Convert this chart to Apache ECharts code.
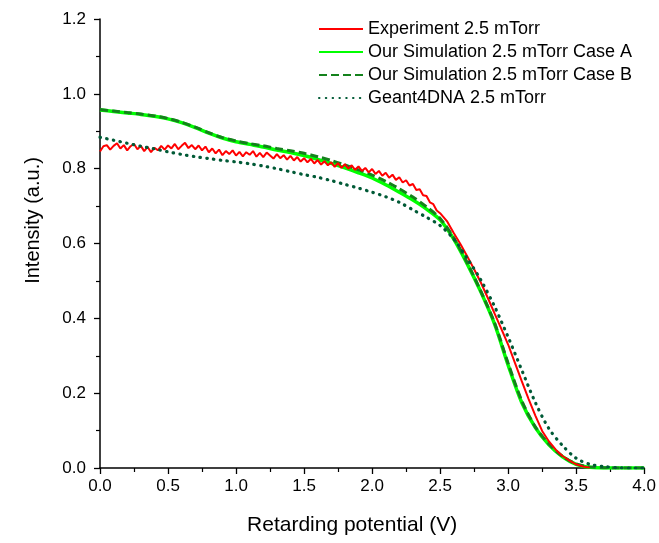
<!DOCTYPE html>
<html>
<head>
<meta charset="utf-8">
<script src="https://cdn.jsdelivr.net/npm/echarts@6/dist/echarts.min.js"></script>
<style>
html,body{margin:0;padding:0;background:#fff;}
#chart{width:659px;height:543px;}
</style>
</head>
<body>
<div id="chart"></div>
<script>
// ---- Data ----
const seriesNames = [
  'Experiment 2.5 mTorr',
  'Our Simulation 2.5 mTorr Case A',
  'Our Simulation 2.5 mTorr Case B',
  'Geant4DNA 2.5 mTorr'
];

const expV = [
  0.000,0.025,0.050,0.075,0.100,0.125,0.150,0.175,0.200,0.225,0.250,0.275,0.300,0.325,0.350,0.375,0.400,0.425,0.450,0.475,
  0.500,0.525,0.550,0.575,0.600,0.625,0.650,0.675,0.700,0.725,0.750,0.775,0.800,0.825,0.850,0.875,0.900,0.925,0.950,0.975,
  1.000,1.025,1.050,1.075,1.100,1.125,1.150,1.175,1.200,1.225,1.250,1.275,1.300,1.325,1.350,1.375,1.400,1.425,1.450,1.475,
  1.500,1.525,1.550,1.575,1.600,1.625,1.650,1.675,1.700,1.725,1.750,1.775,1.800,1.825,1.850,1.875,1.900,1.925,1.950,1.975,
  2.000,2.025,2.050,2.075,2.100,2.125,2.150,2.175,2.200,2.225,2.250,2.275,2.300,2.325,2.350,2.375,2.400,2.425,2.450,2.475,
  2.500,2.550,2.600,2.650,2.700,2.750,2.800,2.850,2.900,2.950,3.000,3.050,3.100,3.150,3.200,3.250,3.300,3.350,3.400,3.450,
  3.500,3.550,3.600
];
const expI = [
  0.846,0.860,0.863,0.851,0.861,0.868,0.854,0.863,0.849,0.860,0.866,0.852,0.861,0.847,0.858,0.844,0.856,0.849,0.861,0.851,
  0.862,0.854,0.866,0.852,0.861,0.869,0.855,0.863,0.852,0.862,0.849,0.859,0.844,0.854,0.841,0.851,0.836,0.847,0.839,0.849,
  0.835,0.845,0.833,0.844,0.837,0.847,0.832,0.842,0.831,0.843,0.835,0.827,0.839,0.828,0.836,0.824,0.834,0.822,0.831,0.819,
  0.828,0.817,0.826,0.814,0.823,0.811,0.820,0.809,0.817,0.805,0.815,0.802,0.812,0.800,0.809,0.797,0.806,0.794,0.802,0.790,
  0.799,0.786,0.794,0.781,0.789,0.776,0.784,0.770,0.777,0.763,0.769,0.755,0.759,0.743,0.745,0.729,0.727,0.710,0.705,0.688,
  0.681,0.660,0.628,0.598,0.565,0.531,0.495,0.455,0.413,0.372,0.330,0.281,0.232,0.185,0.140,0.099,0.071,0.049,0.032,0.020,
  0.010,0.004,0.001
];

const simV = [
  0.0,0.1,0.2,0.3,0.4,0.5,0.6,0.7,0.8,0.9,1.0,1.1,1.2,1.3,1.4,1.5,1.6,1.7,1.8,1.9,
  2.0,2.1,2.2,2.3,2.4,2.5,2.6,2.7,2.8,2.9,3.0,3.1,3.2,3.3,3.4,3.5,3.6,3.7,3.8,3.9,4.0
];
const caseA = [
  0.957,0.953,0.949,0.945,0.940,0.933,0.923,0.910,0.895,0.882,0.872,0.865,0.858,0.850,0.843,0.835,0.825,0.814,0.802,0.789,
  0.775,0.757,0.737,0.716,0.692,0.663,0.612,0.545,0.470,0.385,0.275,0.175,0.108,0.062,0.030,0.010,0.002,0.000,0.000,0.000,0.000
];
const caseB = [
  0.958,0.954,0.950,0.946,0.941,0.934,0.924,0.911,0.896,0.883,0.874,0.867,0.861,0.854,0.848,0.841,0.832,0.822,0.810,0.797,
  0.783,0.766,0.746,0.724,0.698,0.667,0.615,0.548,0.472,0.388,0.280,0.180,0.110,0.064,0.031,0.011,0.003,0.001,0.000,0.000,0.000
];
const geant = [
  0.884,0.876,0.868,0.860,0.853,0.845,0.838,0.832,0.827,0.822,0.818,0.813,0.807,0.800,0.792,0.784,0.777,0.768,0.758,0.748,
  0.737,0.725,0.710,0.690,0.670,0.648,0.612,0.560,0.502,0.432,0.350,0.262,0.175,0.105,0.060,0.026,0.010,0.004,0.001,0.000,0.000
];

const xTicks = { min: 0, max: 4, interval: 0.5 };
const yTicks = { min: 0, max: 1.2, interval: 0.2 };

// ---- Build ----
const zip = (xs, ys) => xs.map((x, i) => [x, ys[i]]);
const FONT = '"Liberation Sans", Arial, sans-serif';

const chart = echarts.init(document.getElementById('chart'), null, { renderer: 'canvas' });

const axisCommon = {
  axisLine: { show: true, onZero: false, lineStyle: { color: '#000', width: 1.5 } },
  axisTick: { show: true, inside: false, length: 6, lineStyle: { color: '#000', width: 1.3 } },
  minorTick: { show: true, splitNumber: 2, length: 4, lineStyle: { color: '#000', width: 1.2 } },
  splitLine: { show: false },
  minorSplitLine: { show: false }
};

chart.setOption({
  backgroundColor: '#fff',
  animation: false,
  grid: { left: 100, right: 14, top: 19, bottom: 75, containLabel: false },
  legend: {
    data: seriesNames,
    orient: 'vertical',
    left: 313,
    top: 15,
    itemWidth: 44,
    itemHeight: 14,
    itemGap: 5,
    itemStyle: { color: 'rgba(0,0,0,0)', borderWidth: 0, opacity: 0 },
    textStyle: { fontFamily: FONT, fontSize: 18, color: '#000', lineHeight: 18 }
  },
  xAxis: Object.assign({
    type: 'value',
    min: xTicks.min, max: xTicks.max, interval: xTicks.interval,
    name: 'Retarding potential (V)',
    nameLocation: 'middle',
    nameGap: 47,
    nameTextStyle: { fontFamily: FONT, fontSize: 21, color: '#000', padding: [0, 40, 0, 0] },
    axisLabel: { fontFamily: FONT, fontSize: 17, color: '#000', margin: 10, formatter: v => v.toFixed(1) }
  }, axisCommon),
  yAxis: Object.assign({
    type: 'value',
    min: yTicks.min, max: yTicks.max, interval: yTicks.interval,
    name: 'Intensity (a.u.)',
    nameLocation: 'middle',
    nameGap: 57,
    nameTextStyle: { fontFamily: FONT, fontSize: 20, color: '#000', padding: [0, 0, 0, 46] },
    axisLabel: { fontFamily: FONT, fontSize: 17, color: '#000', margin: 14, formatter: v => v.toFixed(1) }
  }, axisCommon),
  series: [
    {
      name: seriesNames[0], type: 'line', data: zip(expV, expI),
      showSymbol: false, symbol: 'none', z: 4,
      lineStyle: { color: '#ff0000', width: 2 }, itemStyle: { color: '#ff0000' }
    },
    {
      name: seriesNames[1], type: 'line', data: zip(simV, caseA), smooth: 0.3,
      showSymbol: false, symbol: 'none', z: 2,
      lineStyle: { color: '#00ff00', width: 3.5 }, itemStyle: { color: '#00ff00' }
    },
    {
      name: seriesNames[2], type: 'line', data: zip(simV, caseB), smooth: 0.3,
      showSymbol: false, symbol: 'none', z: 3,
      lineStyle: { color: '#14821c', width: 3, type: [8, 4] }, itemStyle: { color: '#14821c' }
    },
    {
      name: seriesNames[3], type: 'line', data: zip(simV, geant), smooth: 0.3,
      showSymbol: false, symbol: 'none', z: 5,
      lineStyle: { color: '#005a36', width: 3.2, type: [0.5, 6.3], cap: 'round' }, itemStyle: { color: '#005a36' }
    }
  ]
});
</script>
</body>
</html>
